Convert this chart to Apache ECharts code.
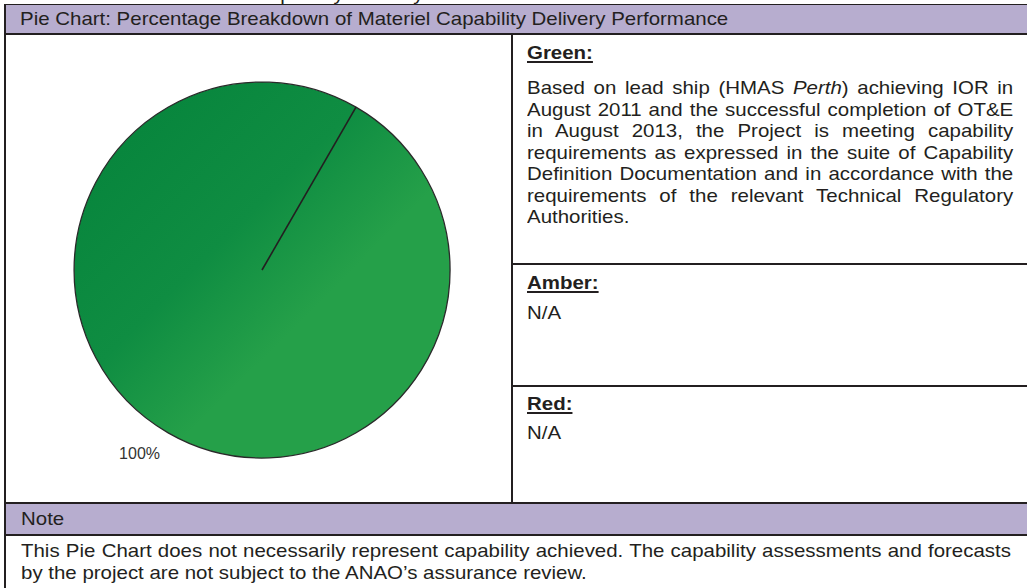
<!DOCTYPE html>
<html>
<head>
<meta charset="utf-8">
<script src="https://cdn.jsdelivr.net/npm/echarts@6/dist/echarts.min.js"></script>
<style>
  html, body { margin:0; padding:0; background:#fff; }
  body { width:1027px; height:588px; overflow:hidden; position:relative; }
  .ln { position:absolute; background:#231f20; }
  .band { position:absolute; background:#b7adcf; }
  .t { position:absolute; font-family:'Liberation Sans', Arial, sans-serif; font-size:18.6px;
       color:#231f20; white-space:nowrap; transform:scaleX(1.1); transform-origin:0 0; line-height:21.5px; }
  .j { text-align:justify; text-align-last:justify; }
  .h { font-weight:bold; text-decoration:underline; text-decoration-thickness:2px; text-underline-offset:2px; }
  #chart { position:absolute; left:6px; top:35px; width:505px; height:468px; }
</style>
</head>
<body>
<div class="t" style="left:254px;top:-16.5px;line-height:20px;">Capability Delivery</div>

<div class="band" style="left:6px;top:5px;width:1021px;height:28px;"></div>
<div class="band" style="left:6px;top:504px;width:1021px;height:30px;"></div>

<div class="ln" style="left:4px;top:4px;width:1023px;height:1px;"></div>
<div class="ln" style="left:4px;top:4px;width:2px;height:584px;"></div>
<div class="ln" style="left:4px;top:33px;width:1023px;height:2px;"></div>
<div class="ln" style="left:511px;top:35px;width:2px;height:468px;"></div>
<div class="ln" style="left:513px;top:263px;width:514px;height:2px;"></div>
<div class="ln" style="left:513px;top:385px;width:514px;height:2px;"></div>
<div class="ln" style="left:4px;top:502px;width:1023px;height:2px;"></div>
<div class="ln" style="left:4px;top:534px;width:1023px;height:2px;"></div>

<div class="t" style="left:20px;top:5px;line-height:28px;">Pie Chart: Percentage Breakdown of Materiel Capability Delivery Performance</div>

<div class="t h" style="left:527px;top:42px;">Green:</div>
<div class="t j" style="left:527px;top:77px;width:442px;">Based on lead ship (HMAS <i>Perth</i>) achieving IOR in</div>
<div class="t j" style="left:527px;top:98.5px;width:442px;">August 2011 and the successful completion of OT&amp;E</div>
<div class="t j" style="left:527px;top:120px;width:442px;">in August 2013, the Project is meeting capability</div>
<div class="t j" style="left:527px;top:141.5px;width:442px;">requirements as expressed in the suite of Capability</div>
<div class="t j" style="left:527px;top:163px;width:442px;">Definition Documentation and in accordance with the</div>
<div class="t j" style="left:527px;top:184.5px;width:442px;">requirements of the relevant Technical Regulatory</div>
<div class="t" style="left:527px;top:206px;">Authorities.</div>

<div class="t h" style="left:527px;top:272px;">Amber:</div>
<div class="t" style="left:527px;top:302px;">N/A</div>

<div class="t h" style="left:527px;top:393px;">Red:</div>
<div class="t" style="left:527px;top:422px;">N/A</div>

<div class="t" style="left:21px;top:504px;line-height:30px;">Note</div>
<div class="t j" style="left:21px;top:540px;width:900px;">This Pie Chart does not necessarily represent capability achieved. The capability assessments and forecasts</div>
<div class="t" style="left:21px;top:561.5px;">by the project are not subject to the ANAO’s assurance review.</div>

<div id="chart"></div>

<script>
// ---- data ----
const categories = ['Green'];
const values = [100];
const sliceColorsDark = ['#08863d'];
const sliceColorsLight = ['#25a049'];

// ---- chart ----
const chart = echarts.init(document.getElementById('chart'), null, { renderer: 'svg' });
const PIE_CENTER = [256, 235];
const PIE_RADIUS = 188;
const START_ANGLE = 60;

const option = {
  animation: false,
  series: [{
    type: 'pie',
    center: PIE_CENTER,
    radius: PIE_RADIUS,
    startAngle: START_ANGLE,
    clockwise: true,
    silent: true,
    avoidLabelOverlap: false,
    data: categories.map((c, i) => ({
      name: c,
      value: values[i],
      itemStyle: {
        color: {
          type: 'linear', x: 0.15, y: 0.15, x2: 0.62, y2: 0.62,
          colorStops: [
            { offset: 0, color: sliceColorsDark[i] },
            { offset: 0.55, color: '#0f8d42' },
            { offset: 1, color: sliceColorsLight[i] }
          ]
        }
      }
    })),
    itemStyle: { borderColor: '#2a2a2a', borderWidth: 1.3 },
    label: {
      show: true,
      position: 'outside',
      formatter: '{d}%',
      fontFamily: 'Liberation Sans, Arial, sans-serif',
      fontSize: 16,
      color: '#333333',
      distanceToLabelLine: -4
    },
    labelLine: { show: false, length: 24, length2: 0 },
    emphasis: { disabled: true }
  }]
};
chart.setOption(option);

// radial boundary line at the slice's start angle, taken from the library's layout
let cx = PIE_CENTER[0], cy = PIE_CENTER[1], r = PIE_RADIUS, a = -START_ANGLE * Math.PI / 180;
try {
  const lay = chart.getModel().getSeriesByIndex(0).getData().getItemLayout(0);
  if (lay) { cx = lay.cx; cy = lay.cy; r = lay.r; a = lay.startAngle; }
} catch (e) {}
chart.setOption({
  graphic: [{
    type: 'line', silent: true, z: 100,
    shape: { x1: cx, y1: cy, x2: cx + r * Math.cos(a), y2: cy + r * Math.sin(a) },
    style: { stroke: '#231f20', lineWidth: 1.6 }
  }]
});
</script>
</body>
</html>
